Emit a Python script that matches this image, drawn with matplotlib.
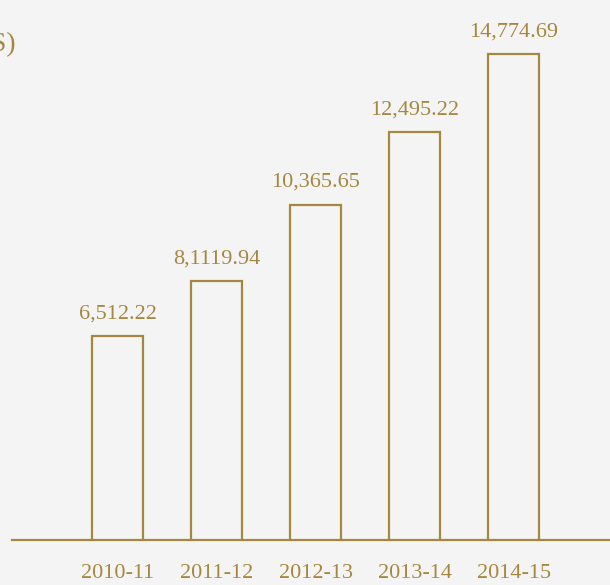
import matplotlib
matplotlib.use("Agg")
import matplotlib.pyplot as plt

years = ["2010-11", "2011-12", "2012-13", "2013-14", "2014-15"]
values = [6512.22, 8119.94, 10365.65, 12495.22, 14774.69]
labels = ["6,512.22", "8,1119.94", "10,365.65", "12,495.22", "14,774.69"]

gold = "#a6873f"
bg = "#f4f4f4"
plt.rcParams["font.family"] = ["Liberation Serif", "DejaVu Serif"]

fig = plt.figure(figsize=(6.1, 5.85), dpi=100, facecolor=bg)
ax = fig.add_axes([12 / 610, 45 / 585, 598 / 610, 540 / 585])
ax.set_facecolor(bg)

x = range(len(years))
ax.bar(x, values, width=0.52, bottom=0, facecolor="none",
       edgecolor=gold, linewidth=1.6)

for i, (v, t) in enumerate(zip(values, labels)):
    ax.annotate(t, (i, v), xytext=(0, 9), textcoords="offset points",
                ha="center", va="bottom", color=gold, fontsize=16)

ax.set_xlim(-1.066, 4.974)
ax.set_ylim(536, 16358)
ax.set_xticks(list(x))
ax.set_xticklabels(years, fontsize=16, color=gold)
ax.tick_params(axis="x", length=0, pad=17)
ax.set_yticks([])
for s in ["top", "right", "left"]:
    ax.spines[s].set_visible(False)
ax.spines["bottom"].set_color(gold)
ax.spines["bottom"].set_linewidth(1.6)

# heading runs off the left edge in the original; only its end shows
fig.text(16 / 610, 1 - 45 / 585, "REVENUE (IN CRORES)", ha="right",
         va="center", color=gold, fontsize=20)

fig.savefig("out.png", dpi=100, facecolor=bg)
